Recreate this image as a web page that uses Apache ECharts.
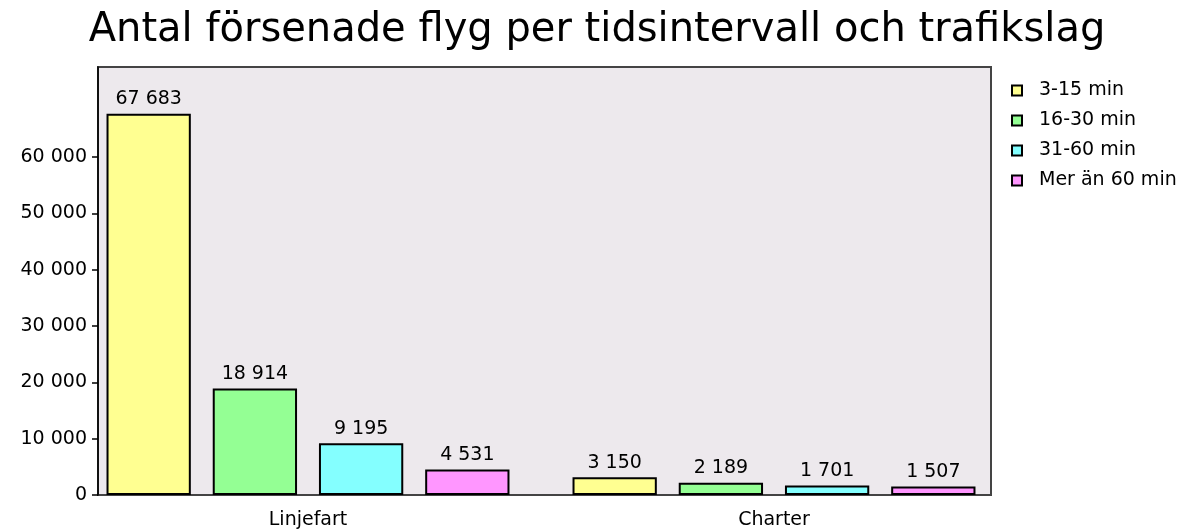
<!DOCTYPE html>
<html>
<head>
<meta charset="utf-8">
<script src="https://cdn.jsdelivr.net/npm/echarts@6/dist/echarts.min.js"></script>
<style>
html,body{margin:0;padding:0;background:#fff;}
#chart{width:1194px;height:530px;}
</style>
</head>
<body>
<div id="chart"></div>
<script>
const titleText = 'Antal försenade flyg per tidsintervall och trafikslag';
const categories = ['Linjefart', 'Charter'];
const seriesNames = ['3-15 min', '16-30 min', '31-60 min', 'Mer än 60 min'];
const values315 = [67683, 3150];
const values1630 = [18914, 2189];
const values3160 = [9195, 1701];
const valuesOver60 = [4531, 1507];
const yTicks = [0, 10000, 20000, 30000, 40000, 50000, 60000];
const yMax = 76000;

const colors = ['#FFFF91', '#94FF94', '#84FFFF', '#FF96FF'];
const seriesData = [values315, values1630, values3160, valuesOver60];

function fmt(v) {
  return String(v).replace(/\B(?=(\d{3})+(?!\d))/g, ' ');
}

const FONT = 'DejaVu Sans';
const chart = echarts.init(document.getElementById('chart'), null, {renderer: 'canvas'});

const series = seriesNames.map((name, i) => ({
  name: name,
  type: 'bar',
  xAxisIndex: 0,
  yAxisIndex: 0,
  data: seriesData[i],
  barWidth: 84.3,
  barGap: '26%',
  itemStyle: {color: colors[i], borderColor: '#000', borderWidth: 2},
  label: {
    show: true,
    position: 'top',
    distance: 5,
    fontFamily: FONT,
    fontSize: 19,
    color: '#000',
    formatter: p => fmt(p.value)
  },
  emphasis: {disabled: true},
  animation: false
}));

chart.setOption({
  animation: false,
  backgroundColor: '#fff',
  title: {
    text: titleText,
    left: 'center',
    top: 6,
    textStyle: {fontFamily: FONT, fontSize: 40, fontWeight: 'normal', color: '#000'}
  },
  legend: {
    orient: 'vertical',
    left: 1006,
    top: 76,
    itemWidth: 34,
    itemHeight: 10,
    itemGap: 11,
    icon: 'path://M0,0L10,0L10,10L0,10Z',
    textStyle: {fontFamily: FONT, fontSize: 19, color: '#000'},
    data: seriesNames
  },
  grid: [
    {left: 75, right: 187, top: 67, bottom: 35, show: false},
    {left: 98, right: 203, top: 67, bottom: 35, show: true, backgroundColor: '#EDE9ED', borderColor: '#444', borderWidth: 2}
  ],
  xAxis: [
    {
      type: 'category', gridIndex: 0, data: categories,
      axisLine: {show: false}, axisTick: {show: false},
      axisLabel: {fontFamily: FONT, fontSize: 19, color: '#000', margin: 16}
    },
    {type: 'value', gridIndex: 1, show: false}
  ],
  yAxis: [
    {type: 'value', gridIndex: 0, min: 0, max: yMax, interval: 10000, show: false},
    {
      type: 'value', gridIndex: 1, min: 0, max: yMax, interval: 10000,
      axisLine: {show: true, lineStyle: {color: '#000', width: 1.5}},
      axisTick: {show: true, length: 6, lineStyle: {color: '#000', width: 1.5}, customValues: yTicks},
      axisLabel: {fontFamily: FONT, fontSize: 19, color: '#000', margin: 11, customValues: yTicks, formatter: v => fmt(v)},
      splitLine: {show: false}
    }
  ],
  series: series
});
</script>
</body>
</html>
